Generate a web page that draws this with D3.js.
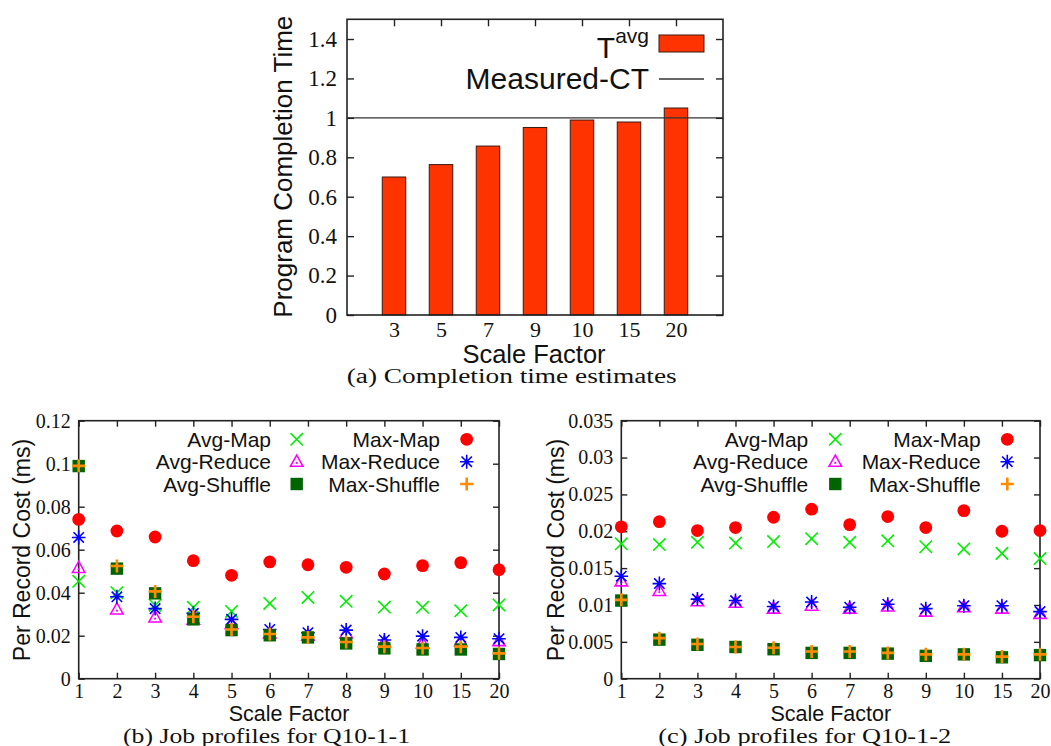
<!DOCTYPE html>
<html>
<head>
<meta charset="utf-8">
<script src="https://cdn.jsdelivr.net/npm/d3@7/dist/d3.min.js"></script>
<style>
  html, body { margin: 0; padding: 0; background: #fff; }
  svg { display: block; }
  .tick text { font-family: "Liberation Serif", "Times New Roman", serif; fill: #111; }
  .sans { font-family: "Liberation Sans", Arial, sans-serif; fill: #111; }
  .serif { font-family: "Liberation Serif", "Times New Roman", serif; fill: #111; }
</style>
</head>
<body>
<svg id="fig" width="1051" height="746"></svg>
<script>
// ---- (a) program completion time ----
const barCategories = ["3", "5", "7", "9", "10", "15", "20"];
const tAvg = [0.70, 0.763, 0.857, 0.951, 0.989, 0.979, 1.05];
const measuredCT = 1.0;
const yTicksA = [0, 0.2, 0.4, 0.6, 0.8, 1, 1.2, 1.4];

// ---- (b), (c) per record cost by scale factor ----
const scaleFactors = ["1", "2", "3", "4", "5", "6", "7", "8", "9", "10", "15", "20"];

const q1AvgMap     = [0.0453, 0.0400, 0.0342, 0.0332, 0.0313, 0.0350, 0.0378, 0.0360, 0.0333, 0.0332, 0.0316, 0.0343];
const q1MaxMap     = [0.0741, 0.0687, 0.0659, 0.0549, 0.0481, 0.0543, 0.0530, 0.0518, 0.0487, 0.0526, 0.0540, 0.0507];
const q1AvgReduce  = [0.0515, 0.0322, 0.0285, 0.0275, 0.0255, 0.0210, 0.0200, 0.0211, 0.0170, 0.0164, 0.0175, 0.0175];
const q1MaxReduce  = [0.0657, 0.0381, 0.0326, 0.0304, 0.0276, 0.0229, 0.0214, 0.0226, 0.0180, 0.0198, 0.0192, 0.0186];
const q1AvgShuffle = [0.0989, 0.0512, 0.0397, 0.0276, 0.0226, 0.0202, 0.0192, 0.0164, 0.0141, 0.0136, 0.0136, 0.0115];
const q1MaxShuffle = [0.0990, 0.0524, 0.0406, 0.0288, 0.0229, 0.0208, 0.0192, 0.0171, 0.0149, 0.0143, 0.0149, 0.0118];
const yTicksB = [0, 0.02, 0.04, 0.06, 0.08, 0.1, 0.12];

const q2AvgMap     = [0.0183, 0.0182, 0.0185, 0.0184, 0.0186, 0.0190, 0.0185, 0.0187, 0.0179, 0.0176, 0.0170, 0.0163];
const q2MaxMap     = [0.0206, 0.0213, 0.0201, 0.0205, 0.0219, 0.0230, 0.0209, 0.0220, 0.0205, 0.0228, 0.0200, 0.0201];
const q2AvgReduce  = [0.0132, 0.0119, 0.0105, 0.0103, 0.0095, 0.0099, 0.0095, 0.0098, 0.0091, 0.0097, 0.0095, 0.0088];
const q2MaxReduce  = [0.0139, 0.0129, 0.0108, 0.0106, 0.0098, 0.0104, 0.0097, 0.0101, 0.0095, 0.0099, 0.0099, 0.0091];
const q2AvgShuffle = [0.0106, 0.0053, 0.0046, 0.0043, 0.0040, 0.0035, 0.0035, 0.0034, 0.0031, 0.0033, 0.0029, 0.0032];
const q2MaxShuffle = [0.0107, 0.0055, 0.0047, 0.0043, 0.0042, 0.0037, 0.0037, 0.0035, 0.0033, 0.0033, 0.0030, 0.0033];
const yTicksC = [0, 0.005, 0.01, 0.015, 0.02, 0.025, 0.03, 0.035];

const seriesNames = ["Avg-Map", "Max-Map", "Avg-Reduce", "Max-Reduce", "Avg-Shuffle", "Max-Shuffle"];

const svg = d3.select("#fig");
const BORDER = "#222";
const fmt = d3.format("~g");

// marker shapes, gnuplot style
const markerStyle = {
  "Avg-Map":     { shape: "cross",    color: "#00ee00" },
  "Max-Map":     { shape: "circle",   color: "#ff0000" },
  "Avg-Reduce":  { shape: "triangle", color: "#ff00ff" },
  "Max-Reduce":  { shape: "star",     color: "#0000ff" },
  "Avg-Shuffle": { shape: "square",   color: "#006400" },
  "Max-Shuffle": { shape: "plus",     color: "#ff8c00" }
};

function markerPath(shape, x, y) {
  const s = 6.2;
  switch (shape) {
    case "cross": return `M${x - s},${y - s}L${x + s},${y + s}M${x - s},${y + s}L${x + s},${y - s}`;
    case "plus":  return `M${x - 6.5},${y}L${x + 6.5},${y}M${x},${y - 6.5}L${x},${y + 6.5}`;
    case "star":  return `M${x - 6.8},${y}L${x + 6.8},${y}M${x},${y - 7}L${x},${y + 7}` +
                         `M${x - 5.2},${y - 5.2}L${x + 5.2},${y + 5.2}M${x - 5.2},${y + 5.2}L${x + 5.2},${y - 5.2}`;
    case "triangle": return `M${x},${y - 6.5}L${x + 6.2},${y + 4.5}L${x - 6.2},${y + 4.5}Z`;
    case "square": return `M${x - 6.2},${y - 6.2}h12.4v12.4h-12.4Z`;
  }
}

function drawMarkers(g, name, values, x, y) {
  const st = markerStyle[name];
  const grp = g.append("g").attr("class", "series");
  if (st.shape === "circle") {
    grp.selectAll("circle").data(values).join("circle")
      .attr("cx", (d, i) => x(i)).attr("cy", d => y(d)).attr("r", 6.4).attr("fill", st.color);
  } else if (st.shape === "square") {
    grp.selectAll("path").data(values).join("path")
      .attr("d", (d, i) => markerPath("square", x(i), y(d))).attr("fill", st.color);
  } else {
    const sw = st.shape === "plus" ? 2.6 : 1.6;
    grp.selectAll("path").data(values).join("path")
      .attr("d", (d, i) => markerPath(st.shape, x(i), y(d)))
      .attr("fill", "none").attr("stroke", st.color).attr("stroke-width", sw);
    if (st.shape === "triangle") {
      grp.selectAll("circle").data(values).join("circle")
        .attr("cx", (d, i) => x(i)).attr("cy", d => y(d) + 1.2).attr("r", 1.1).attr("fill", st.color);
    }
  }
}

function legendMarker(g, name, cx, cy) {
  drawMarkers(g, name, [0], () => cx, () => cy);
}

function frame(g, L, R, T, B) {
  g.append("rect").attr("x", L).attr("y", T).attr("width", R - L).attr("height", B - T)
    .attr("fill", "none").attr("stroke", BORDER).attr("stroke-width", 1.6);
}

function yAxes(g, y, ticks, L, R, fontSize, pad, tick) {
  const left = g.append("g").attr("transform", `translate(${L},0)`)
    .call(d3.axisLeft(y).tickValues(ticks).tickFormat(fmt).tickSize(-tick).tickPadding(pad));
  const right = g.append("g").attr("transform", `translate(${R},0)`)
    .call(d3.axisRight(y).tickValues(ticks).tickFormat("").tickSize(-tick));
  [left, right].forEach(a => {
    a.select(".domain").remove();
    a.selectAll("line").attr("stroke", BORDER).attr("stroke-width", 1.4);
  });
  left.selectAll("text").attr("font-size", fontSize).attr("fill", "#111");
}

function xAxes(g, x, n, labels, T, B, fontSize, baselineOff, tick, bottomTicks) {
  const idx = d3.range(n);
  const bottom = g.append("g").attr("transform", `translate(0,${B})`)
    .call(d3.axisBottom(x).tickValues(idx).tickFormat(i => labels[i]).tickSize(bottomTicks ? -tick : 0));
  const top = g.append("g").attr("transform", `translate(0,${T})`)
    .call(d3.axisTop(x).tickValues(idx).tickFormat("").tickSize(-tick));
  [bottom, top].forEach(a => {
    a.select(".domain").remove();
    a.selectAll("line").attr("stroke", BORDER).attr("stroke-width", 1.4);
  });
  bottom.selectAll("text").attr("dy", null).attr("y", baselineOff)
    .attr("font-size", fontSize).attr("fill", "#111");
}

// ===================== (a) =====================
(function () {
  const L = 347, R = 723, T = 19.3, B = 315;
  const g = svg.append("g");
  const x = d3.scaleLinear().domain([-1, barCategories.length]).range([L, R]);
  const y = d3.scaleLinear().domain([0, 1.5]).range([B, T]);
  const bw = (x(1) - x(0)) * 0.5;

  g.append("g").selectAll("rect").data(tAvg).join("rect")
    .attr("x", (d, i) => x(i) - bw / 2).attr("y", d => y(d))
    .attr("width", bw).attr("height", d => B - y(d))
    .attr("fill", "#ff3300").attr("stroke", "#3a1a10").attr("stroke-width", 1);

  g.append("line").attr("x1", L).attr("x2", R).attr("y1", y(measuredCT)).attr("y2", y(measuredCT))
    .attr("stroke", "#333").attr("stroke-width", 1.4);

  yAxes(g, y, yTicksA, L, R, 23, 10, 7);
  xAxes(g, x, barCategories.length, barCategories, T, B, 22, 21.5, 7, false);
  frame(g, L, R, T, B);

  // legend
  const lt = g.append("text").attr("class", "sans").attr("text-anchor", "end")
    .attr("x", 649).attr("y", 58).attr("font-size", 30);
  lt.append("tspan").text("T");
  lt.append("tspan").attr("font-size", 21).attr("dy", -15).text("avg");
  g.append("rect").attr("x", 659).attr("y", 35).attr("width", 45).attr("height", 17)
    .attr("fill", "#ff3300").attr("stroke", "#3a1a10").attr("stroke-width", 1);
  g.append("text").attr("class", "sans").attr("text-anchor", "end")
    .attr("x", 649).attr("y", 89).attr("font-size", 30).text("Measured-CT");
  g.append("line").attr("x1", 659).attr("x2", 704).attr("y1", 79).attr("y2", 79)
    .attr("stroke", "#333").attr("stroke-width", 1.4);

  g.append("text").attr("class", "sans").attr("text-anchor", "middle")
    .attr("transform", `translate(292,166.7) rotate(-90)`).attr("font-size", 26)
    .text("Program Completion Time");
  g.append("text").attr("class", "sans").attr("text-anchor", "middle")
    .attr("x", 534).attr("y", 362.5).attr("font-size", 25.5).text("Scale Factor");
  g.append("text").attr("class", "serif").attr("text-anchor", "middle")
    .attr("x", 511.7).attr("y", 383).attr("font-size", 20)
    .attr("textLength", 330).attr("lengthAdjust", "spacingAndGlyphs")
    .text("(a) Completion time estimates");
})();

// ===================== (b), (c) =====================
function costPanel(opts) {
  const { L, R, T, B, yMax, yTicks, data, legend, ylabelX, xlabelX, caption, captionX, captionW } = opts;
  const g = svg.append("g");
  const x = d3.scaleLinear().domain([0, scaleFactors.length - 1]).range([L, R]);
  const y = d3.scaleLinear().domain([0, yMax]).range([B, T]);

  yAxes(g, y, yTicks, L, R, 20, 8, 6);
  xAxes(g, x, scaleFactors.length, scaleFactors, T, B, 20, 19.3, 6, true);
  frame(g, L, R, T, B);

  // legend (two columns, row-major)
  const rows = [439.3, 461.7, 484];
  seriesNames.forEach((name, k) => {
    const col = k % 2, row = Math.floor(k / 2);
    const tx = legend.textEnd[col], mx = legend.marker[col], cy = rows[row];
    g.append("text").attr("class", "sans").attr("text-anchor", "end")
      .attr("x", tx).attr("y", cy + 7.5).attr("font-size", 21).text(name);
    legendMarker(g, name, mx, cy);
  });

  const plot = g.append("g");
  seriesNames.forEach(name => drawMarkers(plot, name, data[name], x, y));

  g.append("text").attr("class", "sans").attr("text-anchor", "middle")
    .attr("transform", `translate(${ylabelX},550) rotate(-90)`).attr("font-size", 23)
    .text("Per Record Cost (ms)");
  g.append("text").attr("class", "sans").attr("text-anchor", "middle")
    .attr("x", xlabelX).attr("y", 720.5).attr("font-size", 21.5).text("Scale Factor");
  g.append("text").attr("class", "serif").attr("text-anchor", "middle")
    .attr("x", captionX).attr("y", 742.5).attr("font-size", 20)
    .attr("textLength", captionW).attr("lengthAdjust", "spacingAndGlyphs")
    .text(caption);
}

costPanel({
  L: 78.7, R: 499, T: 420.7, B: 678.7, yMax: 0.12, yTicks: yTicksB,
  data: {
    "Avg-Map": q1AvgMap, "Max-Map": q1MaxMap, "Avg-Reduce": q1AvgReduce,
    "Max-Reduce": q1MaxReduce, "Avg-Shuffle": q1AvgShuffle, "Max-Shuffle": q1MaxShuffle
  },
  legend: { textEnd: [271, 440], marker: [296.7, 466.7] },
  ylabelX: 30, xlabelX: 289, caption: "(b) Job profiles for Q10-1-1", captionX: 266.5, captionW: 287
});

costPanel({
  L: 621.3, R: 1040, T: 420.7, B: 678.7, yMax: 0.035, yTicks: yTicksC,
  data: {
    "Avg-Map": q2AvgMap, "Max-Map": q2MaxMap, "Avg-Reduce": q2AvgReduce,
    "Max-Reduce": q2MaxReduce, "Avg-Shuffle": q2AvgShuffle, "Max-Shuffle": q2MaxShuffle
  },
  legend: { textEnd: [808.3, 980.7], marker: [835.3, 1007.3] },
  ylabelX: 564, xlabelX: 830.8, caption: "(c) Job profiles for Q10-1-2", captionX: 804.8, captionW: 293
});
</script>
</body>
</html>
